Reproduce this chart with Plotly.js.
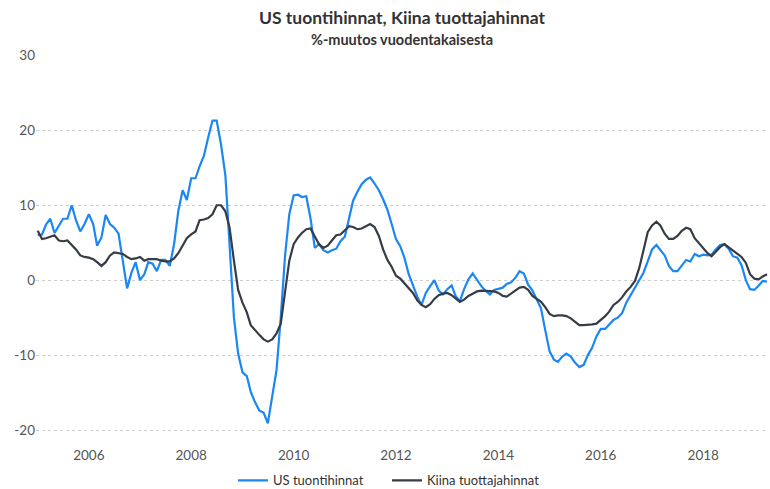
<!DOCTYPE html>
<html>
<head>
<meta charset="utf-8">
<script src="https://cdn.plot.ly/plotly-3.0.1.min.js"></script>
<style>html,body{margin:0;padding:0;background:#fff;}#chart{width:770px;height:489px;}</style>
</head>
<body>
<div id="chart"></div>
<script>
// Monthly data, Jan 2005 .. Apr 2019
const startYear = 2005;
const startMonth = 1;

const usImportPrices = [
  6.0, 6.1, 7.4, 8.2, 6.3, 7.3, 8.2, 8.2, 10.0, 8.0, 6.5, 7.5,
  8.8, 7.5, 4.6, 5.7, 8.7, 7.5, 7.0, 6.2, 2.2, -1.1, 1.0, 2.4,
  0.0, 0.8, 2.4, 2.2, 1.2, 2.7, 2.7, 1.9, 4.8, 9.2, 12.0, 10.7,
  13.6, 13.6, 15.2, 16.6, 19.0, 21.3, 21.3, 18.1, 14.0, 4.5, -5.0, -9.8,
  -12.3, -12.8, -14.9, -16.3, -17.4, -17.7, -19.1, -15.5, -12.0, -5.0, 3.3, 8.8,
  11.3, 11.4, 11.1, 11.2, 8.3, 4.3, 4.8, 4.0, 3.7, 4.0, 4.2, 5.2,
  5.8, 8.3, 10.6, 11.8, 12.8, 13.4, 13.7, 12.9, 12.0, 10.8, 9.4, 7.5,
  5.5, 4.5, 3.0, 0.8, -0.6, -2.2, -3.3, -1.7, -0.8, 0.0, -1.4, -1.9,
  -1.2, -0.7, -2.1, -2.8, -1.2, 0.1, 0.9, 0.0, -0.8, -1.4, -1.9, -1.3,
  -1.2, -1.0, -0.5, -0.3, 0.3, 1.2, 0.9, -0.6, -1.4, -2.5, -3.8, -6.7,
  -9.5, -10.6, -10.9, -10.2, -9.8, -10.2, -11.0, -11.6, -11.3, -10.0, -9.0, -7.5,
  -6.5, -6.5, -5.9, -5.3, -5.0, -4.4, -3.0, -2.0, -1.0, -0.1, 1.0, 2.5,
  4.1, 4.7, 4.0, 3.3, 1.9, 1.2, 1.2, 2.0, 2.7, 2.5, 3.5, 3.2,
  3.4, 3.3, 3.4, 4.1, 4.7, 4.8, 4.2, 3.2, 3.0, 2.0, 0.0, -1.2,
  -1.3, -0.7, -0.1, -0.2
];

const chinaProducerPrices = [
  6.6, 5.5, 5.6, 5.8, 6.0, 5.3, 5.2, 5.3, 4.7, 4.1, 3.3, 3.1,
  3.0, 2.8, 2.4, 1.9, 2.4, 3.3, 3.7, 3.6, 3.5, 3.1, 2.8, 2.9,
  3.1, 2.6, 2.8, 2.8, 2.8, 2.6, 2.5, 2.5, 2.9, 3.6, 4.6, 5.6,
  6.1, 6.5, 8.0, 8.1, 8.3, 8.8, 10.0, 10.0, 9.2, 7.0, 2.6, -1.3,
  -3.0, -4.3, -6.0, -6.7, -7.3, -7.9, -8.2, -7.9, -7.1, -5.8, -1.2, 2.6,
  4.8, 5.7, 6.3, 6.8, 6.9, 5.9, 4.8, 4.3, 4.6, 5.3, 6.0, 6.1,
  6.7, 7.2, 7.1, 6.8, 6.9, 7.2, 7.5, 7.1, 5.9, 4.1, 2.7, 1.8,
  0.6, 0.2, -0.4, -1.0, -1.7, -2.7, -3.3, -3.6, -3.2, -2.5, -2.0, -1.8,
  -1.7, -2.0, -2.4, -2.9, -2.6, -2.1, -1.8, -1.5, -1.4, -1.4, -1.4, -1.5,
  -1.7, -2.1, -2.2, -1.8, -1.3, -1.0, -0.9, -1.3, -2.1, -2.5, -2.9, -3.6,
  -4.5, -4.8, -4.7, -4.7, -4.8, -5.1, -5.6, -6.0, -6.0, -6.0, -5.9, -5.8,
  -5.3, -4.8, -4.2, -3.3, -2.9, -2.3, -1.5, -0.9, -0.1, 1.6, 4.0, 6.4,
  7.3, 7.8, 7.3, 6.2, 5.5, 5.5, 5.9, 6.6, 7.0, 6.8, 5.6, 4.9,
  4.2, 3.6, 3.2, 3.8, 4.4, 4.8, 4.4, 3.9, 3.5, 3.1, 2.3, 0.8,
  0.2, 0.1, 0.5, 0.8
];

const yTickValues = [-20, -10, 0, 10, 20, 30];
const xTickYears = ['2006', '2008', '2010', '2012', '2014', '2016', '2018'];

const seriesNames = ['US tuontihinnat', 'Kiina tuottajahinnat'];
const titleText = 'US tuontihinnat, Kiina tuottajahinnat';
const subtitleText = '%-muutos vuodentakaisesta';

function monthDates(n) {
  const out = [];
  for (let i = 0; i < n; i++) {
    const y = startYear + Math.floor((startMonth - 1 + i) / 12);
    const m = ((startMonth - 1 + i) % 12) + 1;
    out.push(y + '-' + String(m).padStart(2, '0') + '-01');
  }
  return out;
}

const FONT = 'Lato, "Open Sans", sans-serif';
const PLOT_H = 489 - 55 - 48.5;

const traces = [
  {
    x: monthDates(usImportPrices.length),
    y: usImportPrices,
    type: 'scatter',
    mode: 'lines',
    name: seriesNames[0],
    line: {color: '#1a87f2', width: 2.2}
  },
  {
    x: monthDates(chinaProducerPrices.length),
    y: chinaProducerPrices,
    type: 'scatter',
    mode: 'lines',
    name: seriesNames[1],
    line: {color: '#363c45', width: 2.2}
  }
];

const layout = {
  width: 770,
  height: 489,
  margin: {l: 36, r: 2, t: 55, b: 48.5, autoexpand: false},
  paper_bgcolor: '#ffffff',
  plot_bgcolor: '#ffffff',
  font: {family: FONT, color: '#555', size: 13},
  showlegend: true,
  legend: {
    orientation: 'h',
    x: (233 - 36) / 732, xanchor: 'left',
    y: -(481 - 440.5) / PLOT_H, yanchor: 'middle',
    font: {family: FONT, size: 13, color: '#333'},
    itemwidth: 30,
    entrywidth: 109,
    traceorder: 'normal'
  },
  xaxis: {
    type: 'date',
    range: ['2004-12-20', '2019-04-08'],
    tickvals: xTickYears.map(y => y + '-01-01'),
    ticktext: xTickYears,
    showgrid: false,
    zeroline: false,
    showline: false,
    ticks: '',
    ticklabelstandoff: 5,
    tickfont: {family: FONT, size: 13.5, color: '#555'}
  },
  yaxis: {
    range: [-21.33, 30.05],
    tickvals: yTickValues,
    ticktext: yTickValues.map(String),
    showgrid: true,
    gridcolor: '#cfcfcf',
    griddash: 'dot',
    gridwidth: 1,
    zeroline: false,
    showline: false,
    ticks: '',
    tickfont: {family: FONT, size: 13.5, color: '#555'}
  },
  annotations: [
    {
      text: '<b>' + titleText + '</b>',
      xref: 'paper', yref: 'paper',
      x: 0.5, y: 1 + (55 - 17) / PLOT_H,
      xanchor: 'center', yanchor: 'middle',
      showarrow: false,
      font: {family: FONT, size: 17.5, color: '#333'}
    },
    {
      text: '<b>' + subtitleText + '</b>',
      xref: 'paper', yref: 'paper',
      x: 0.5, y: 1 + (55 - 39) / PLOT_H,
      xanchor: 'center', yanchor: 'middle',
      showarrow: false,
      font: {family: FONT, size: 14.5, color: '#333'}
    }
  ]
};

Plotly.newPlot('chart', traces, layout, {staticPlot: true, displayModeBar: false});
</script>
</body>
</html>
